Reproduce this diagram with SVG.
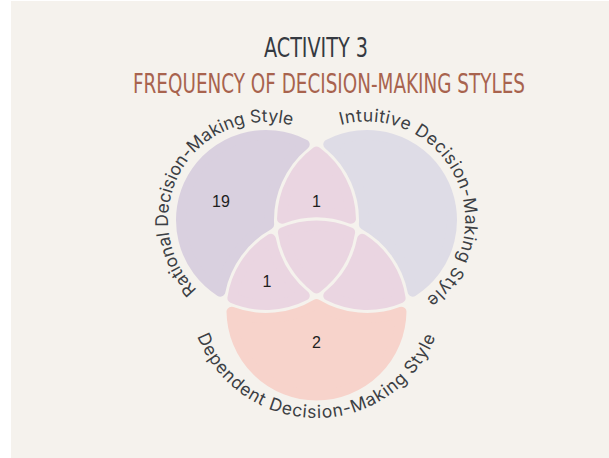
<svg xmlns="http://www.w3.org/2000/svg" width="609" height="458" viewBox="0 0 609 458">
  <defs>
    <style>
      .bg { fill: #f5f2ed; }
      .region { stroke-width: 10; stroke-linejoin: round; }
      .a-only { fill: #d9d0df; stroke: #d9d0df; }
      .b-only { fill: #dedce6; stroke: #dedce6; }
      .c-only { fill: #f7d3cb; stroke: #f7d3cb; }
      .overlap { fill: #ead5e1; stroke: #ead5e1; }
      .count { font-family: "Liberation Sans", Arial, sans-serif; font-size: 16px; fill: #1e1e1e; text-anchor: middle; }
      .set-label { font-family: Inter, "Liberation Sans", sans-serif; font-size: 17.5px; fill: #3c3f44; }
      .title { font-family: "Liberation Sans Narrow", "DejaVu Sans Condensed", sans-serif; }
    </style>
    <!-- label guides: full circles, midpoint placed where each label is centred -->
    <path id="guide-rational" d="M 350.9 269 A 98 98 0 1 1 181.1 171 A 98 98 0 1 1 350.9 269"/>
    <path id="guide-intuitive" d="M 278.92 262.96 A 98 98 0 1 1 455.08 177.04 A 98 98 0 1 1 278.92 262.96"/>
    <path id="guide-dependent" d="M 316.5 162 A 128 128 0 1 0 316.5 418 A 128 128 0 1 0 316.5 162"/>
  </defs>

  <rect x="0" y="0" width="609" height="458" fill="#ffffff"/>
  <rect class="bg" x="11" y="1" width="598" height="457"/>

  <g id="title">
    <text class="title" x="264" y="57" font-size="27" fill="#353a41" textLength="104" lengthAdjust="spacingAndGlyphs">ACTIVITY 3</text>
    <text class="title" x="133" y="92.5" font-size="26" fill="#a8634e" textLength="392" lengthAdjust="spacingAndGlyphs">FREQUENCY OF DECISION-MAKING STYLES</text>
  </g>

  <!-- Venn regions: each shape is the eroded region, re-grown by the stroke so convex corners come out rounded -->
  <g id="region-rational">
    <path class="region a-only" d="M 304.723 144.333 A 85 85 0 0 0 220.323 291.684 A 98 98 0 0 1 269.115 224.718 A 98 98 0 0 1 304.723 144.333 Z"/>
    <text class="count" x="221" y="207">19</text>
  </g>
  <g id="region-intuitive">
    <path class="region b-only" d="M 328.277 144.333 A 85 85 0 0 1 412.677 291.684 A 98 98 0 0 0 363.885 224.718 A 98 98 0 0 0 328.277 144.333 Z"/>
  </g>
  <g id="region-dependent">
    <path class="region c-only" d="M 231.510 311.729 A 85 85 0 0 0 401.490 311.729 A 98 98 0 0 1 316.5 303.987 A 98 98 0 0 1 231.510 311.729 Z"/>
    <text class="count" x="316.5" y="348">2</text>
  </g>
  <g id="region-rational-intuitive">
    <path class="region overlap" d="M 316.5 151.628 A 85 85 0 0 0 282.009 218.770 A 98 98 0 0 1 350.991 218.770 A 85 85 0 0 0 316.5 151.628 Z"/>
    <text class="count" x="316.5" y="207">1</text>
  </g>
  <g id="region-rational-dependent">
    <path class="region overlap" d="M 232.414 298.082 A 85 85 0 0 0 304.723 295.667 A 98 98 0 0 1 270.824 238.815 A 85 85 0 0 0 232.414 298.082 Z"/>
    <text class="count" x="267" y="287">1</text>
  </g>
  <g id="region-intuitive-dependent">
    <path class="region overlap" d="M 400.586 298.082 A 85 85 0 0 1 328.277 295.667 A 98 98 0 0 0 362.176 238.815 A 85 85 0 0 1 400.586 298.082 Z"/>
  </g>
  <g id="region-all">
    <path class="region overlap" d="M 282.914 232.418 A 85 85 0 0 1 350.086 232.418 A 85 85 0 0 1 316.5 288.372 A 85 85 0 0 1 282.914 232.418 Z"/>
  </g>

  <g id="set-labels">
    <text class="set-label"><textPath href="#guide-rational" startOffset="50%" text-anchor="middle">Rational Decision-Making Style</textPath></text>
    <text class="set-label" letter-spacing="0.5"><textPath href="#guide-intuitive" startOffset="50%" text-anchor="middle">Intuitive Decision-Making Style</textPath></text>
    <text class="set-label" letter-spacing="0.8"><textPath href="#guide-dependent" startOffset="50%" text-anchor="middle">Dependent Decision-Making Style</textPath></text>
  </g>
</svg>
